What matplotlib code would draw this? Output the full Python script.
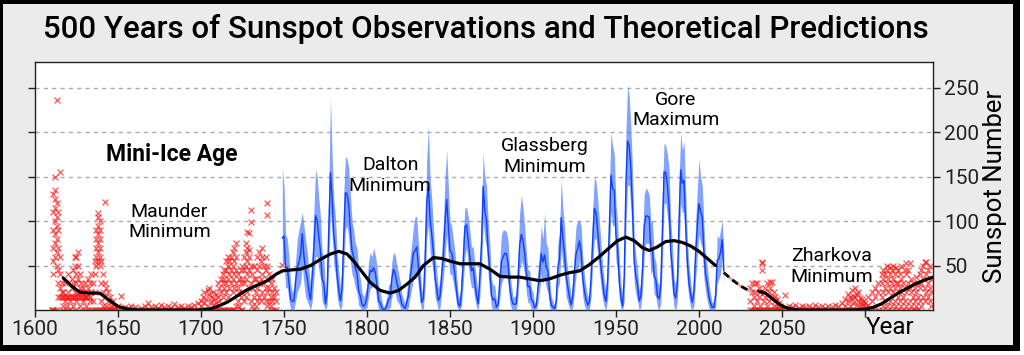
import matplotlib.pyplot as plt
from matplotlib.patches import Rectangle

# Observed sunspot numbers (blue), one entry per year 1749-2015:
# annual mean plus the highest / lowest monthly value seen in that year
obs_years = list(range(1749, 2016))
obs_mean = [
    80.9,
    83.4, 47.7, 47.8, 30.7, 12.2, 9.6, 10.2, 32.4, 47.6, 54.0,
    62.9, 85.9, 61.2, 45.1, 36.4, 20.9, 11.4, 37.8, 69.8, 106.1,
    100.8, 81.6, 66.5, 34.8, 30.6, 7.0, 19.8, 92.5, 154.4, 125.9,
    84.8, 68.1, 38.5, 22.8, 10.2, 24.1, 82.9, 132.0, 130.9, 118.1,
    89.9, 66.6, 60.0, 46.9, 41.0, 21.3, 16.0, 6.4, 4.1, 6.8,
    14.5, 34.0, 45.0, 43.1, 47.5, 42.2, 28.1, 10.1, 8.1, 2.5,
    0.0, 1.4, 5.0, 12.2, 13.9, 35.4, 45.8, 41.1, 30.1, 23.9,
    15.6, 6.6, 4.0, 1.8, 8.5, 16.6, 36.3, 49.6, 64.2, 67.0,
    70.9, 47.8, 27.5, 8.5, 13.2, 56.9, 121.5, 138.3, 103.2, 85.7,
    64.6, 36.7, 24.2, 10.7, 15.0, 40.1, 61.5, 98.5, 124.7, 96.3,
    66.6, 64.5, 54.1, 39.0, 20.6, 6.7, 4.3, 22.7, 54.8, 93.8,
    95.8, 77.2, 59.1, 44.0, 47.0, 30.5, 16.3, 7.3, 37.6, 74.0,
    139.0, 111.2, 101.6, 66.2, 44.7, 17.0, 11.3, 12.4, 3.4, 6.0,
    32.3, 54.3, 59.7, 63.7, 63.5, 52.2, 25.4, 13.1, 6.8, 6.3,
    7.1, 35.6, 73.0, 85.1, 78.0, 64.0, 41.8, 26.2, 26.7, 12.1,
    9.5, 2.7, 5.0, 24.4, 42.0, 63.5, 53.8, 62.0, 48.5, 43.9,
    18.6, 5.7, 3.6, 1.4, 9.6, 47.4, 57.1, 103.9, 80.6, 63.6,
    37.6, 26.1, 14.2, 5.8, 16.7, 44.3, 63.9, 69.0, 77.8, 64.9,
    35.7, 21.2, 11.1, 5.7, 8.7, 36.1, 79.7, 114.4, 109.6, 88.8,
    67.8, 47.5, 30.6, 16.3, 9.6, 33.2, 92.6, 151.6, 136.3, 134.7,
    83.9, 69.4, 31.5, 13.9, 4.4, 38.0, 141.7, 190.2, 184.8, 159.0,
    112.3, 53.9, 37.6, 27.9, 10.2, 15.1, 47.0, 93.8, 105.9, 105.5,
    104.5, 66.6, 68.9, 38.0, 34.5, 15.5, 12.6, 27.5, 92.5, 155.4,
    154.6, 140.4, 115.9, 66.6, 45.9, 17.9, 13.4, 29.4, 100.2, 157.6,
    142.6, 145.7, 94.3, 54.6, 29.9, 17.5, 8.6, 21.5, 64.3, 93.3,
    119.6, 111.0, 104.0, 63.7, 40.4, 29.8, 15.2, 7.5, 2.9, 3.1,
    16.5, 55.7, 57.6, 64.7, 79.3, 42.0,
]
obs_high = [
    160,
    140, 85, 80, 60, 30, 20, 25, 55, 80, 90,
    100, 110, 95, 80, 65, 45, 30, 65, 110, 158,
    150, 125, 105, 65, 60, 20, 45, 140, 238, 175,
    125, 105, 65, 45, 25, 50, 130, 173, 170, 160,
    130, 100, 90, 75, 70, 45, 35, 20, 15, 20,
    30, 55, 65, 60, 70, 62, 50, 25, 20, 10,
    3, 8, 15, 28, 30, 55, 65, 62, 50, 42,
    32, 18, 12, 8, 22, 35, 60, 75, 95, 105,
    105, 75, 50, 20, 30, 95, 170, 206, 150, 125,
    95, 60, 45, 25, 32, 65, 95, 150, 180, 140,
    100, 95, 80, 65, 40, 18, 12, 45, 85, 115,
    115, 105, 90, 70, 72, 50, 35, 18, 60, 110,
    176, 150, 140, 100, 75, 35, 28, 28, 10, 15,
    55, 85, 90, 90, 88, 78, 45, 28, 15, 15,
    18, 60, 110, 129, 115, 95, 65, 45, 45, 25,
    20, 8, 12, 45, 65, 95, 80, 109, 75, 70,
    35, 15, 10, 5, 22, 75, 85, 148, 115, 95,
    60, 45, 30, 15, 35, 70, 95, 100, 101, 95,
    60, 40, 25, 15, 20, 60, 115, 149, 145, 125,
    100, 75, 50, 32, 22, 55, 135, 200, 185, 175,
    120, 100, 55, 30, 12, 70, 200, 253, 240, 205,
    155, 85, 60, 48, 22, 30, 75, 130, 137, 135,
    130, 100, 100, 60, 55, 32, 28, 50, 135, 188,
    185, 175, 160, 100, 75, 35, 30, 50, 145, 200,
    180, 190, 135, 80, 50, 32, 18, 40, 100, 135,
    170, 150, 140, 95, 60, 50, 30, 18, 8, 10,
    30, 85, 80, 90, 101, 65,
]
obs_low = [
    50,
    55, 25, 25, 10, 0, 0, 0, 10, 20, 25,
    30, 50, 30, 15, 10, 5, 0, 10, 35, 60,
    60, 45, 35, 10, 5, 0, 5, 50, 110, 85,
    50, 40, 15, 5, 0, 5, 45, 90, 95, 80,
    55, 40, 35, 25, 20, 5, 3, 0, 0, 0,
    3, 15, 25, 25, 30, 25, 10, 0, 0, 0,
    0, 0, 0, 2, 2, 15, 25, 20, 10, 8,
    3, 0, 0, 0, 0, 3, 15, 25, 35, 40,
    45, 25, 8, 0, 2, 25, 80, 95, 65, 55,
    40, 15, 8, 0, 2, 20, 35, 60, 85, 60,
    40, 40, 30, 20, 5, 0, 0, 5, 30, 60,
    70, 50, 35, 25, 25, 12, 3, 0, 15, 45,
    100, 80, 70, 40, 20, 3, 0, 0, 0, 0,
    12, 30, 35, 40, 40, 30, 8, 2, 0, 0,
    0, 15, 45, 55, 50, 40, 20, 8, 8, 0,
    0, 0, 0, 8, 22, 40, 30, 35, 25, 20,
    3, 0, 0, 0, 0, 25, 30, 70, 50, 40,
    15, 8, 2, 0, 3, 20, 40, 45, 55, 40,
    15, 5, 0, 0, 0, 15, 50, 80, 80, 60,
    45, 25, 12, 3, 0, 12, 60, 110, 95, 95,
    55, 45, 12, 2, 0, 10, 90, 140, 140, 115,
    75, 30, 18, 10, 0, 3, 22, 60, 75, 75,
    75, 40, 45, 18, 15, 3, 0, 8, 55, 120,
    120, 105, 80, 40, 20, 3, 0, 10, 60, 120,
    110, 110, 60, 30, 12, 3, 0, 5, 35, 60,
    85, 75, 70, 35, 20, 10, 2, 0, 0, 0,
    3, 30, 35, 40, 60, 30,
]

# Early telescope records (red crosses): (year, values seen that year)
early_obs = [
    (1610, [0, 0]), (1611, [0, 40, 55, 70, 90, 110, 130]),
    (1612, [0, 60, 75, 85, 100, 115, 125, 135, 150]),
    (1613, [0, 50, 65, 80, 95, 105, 120, 236]), (1614, [15, 30, 45, 70, 90, 110]),
    (1615, [15, 25, 40, 60, 155]), (1616, [15, 20, 30]), (1617, [15, 0, 5, 20]),
    (1618, [15, 10, 30]), (1619, [15, 5, 0]), (1620, [15, 20, 40]),
    (1621, [15, 0, 10]), (1622, [15, 25, 35]), (1623, [15, 5, 30, 45]),
    (1624, [15, 0, 20, 50, 60]), (1625, [15, 10, 30, 40, 60]),
    (1626, [15, 20, 35, 50, 65]), (1627, [15, 5, 25, 40]), (1628, [15, 0, 20, 30]),
    (1629, [15, 10, 25]), (1630, [15, 0, 15, 30]), (1631, [15, 5, 20]),
    (1632, [15, 0, 25, 35]), (1633, [15, 10, 30]), (1634, [0, 20, 40]),
    (1635, [0, 10, 30]), (1636, [0, 20, 40, 55]), (1637, [0, 50, 60, 70, 80, 90]),
    (1638, [0, 55, 65, 75, 85, 95, 105, 109]), (1639, [0, 50, 60, 70, 80, 90, 100]),
    (1640, [0, 10, 30, 55]), (1641, [0, 5, 20, 40]), (1642, [121, 0, 15, 30]),
    (1643, [0, 5, 25]), (1644, [0, 10, 20]), (1645, [0, 2, 15]), (1646, [0, 5]),
    (1647, [0, 10]), (1648, [0, 3]),
]
maunder_obs = [
    (1650, [0, 5]), (1652, [0, 16]), (1654, [0, 3]), (1656, [0, 2]), (1658, [0, 5]),
    (1660, [0, 3]), (1662, [0]), (1664, [0, 2]), (1666, [0, 5]), (1668, [0, 8]),
    (1670, [0, 3]), (1672, [0, 4]), (1674, [0, 2]), (1676, [0, 6]), (1678, [0, 3]),
    (1680, [0, 5]), (1682, [0, 2]), (1684, [0, 7]), (1686, [0, 3]), (1688, [0, 4]),
    (1690, [0, 2]), (1692, [0, 5]), (1694, [0, 3]), (1696, [0, 6]), (1698, [0, 8]),
    (1700, [0, 10, 4]), (1701, [0, 15]), (1702, [0, 8, 20]), (1703, [0, 12]),
    (1704, [0, 5, 22]), (1705, [0, 18, 25]), (1706, [0, 10, 15]), (1707, [0, 6, 20]),
    (1708, [0, 12]), (1709, [0, 8, 18]),
]
late_obs = [
    (1710, [0, 15, 30]), (1711, [0, 10, 25]), (1712, [0, 20, 35]),
    (1713, [0, 15, 30, 40]), (1714, [0, 25, 35, 45]), (1715, [0, 20, 30, 45, 55]),
    (1716, [0, 15, 35, 50, 60]), (1717, [0, 25, 40, 55]), (1718, [0, 30, 45, 60]),
    (1719, [0, 20, 35, 50, 65]), (1720, [0, 25, 40, 55, 70]),
    (1721, [5, 30, 45, 60, 75]), (1722, [10, 25, 40]), (1723, [5, 20, 35]),
    (1724, [0, 15, 30, 45]), (1725, [0, 20, 35, 50]), (1726, [10, 30, 45, 60]),
    (1727, [15, 35, 50, 65, 75]), (1728, [20, 40, 55, 70, 88]),
    (1729, [25, 45, 60, 67, 87]), (1730, [10, 30, 50, 99, 113]), (1731, [5, 25, 40]),
    (1732, [0, 15, 35, 50]), (1733, [5, 20, 35]), (1734, [10, 25, 45, 60]),
    (1735, [15, 30, 50, 65]), (1736, [10, 35, 55]), (1737, [20, 40, 60, 70]),
    (1738, [15, 30, 50]), (1739, [10, 25, 45, 60]), (1740, [5, 20, 35, 49, 107, 120]),
    (1741, [10, 25, 40]), (1742, [5, 15, 30]), (1743, [0, 10, 20, 35]),
    (1744, [0, 15, 25]), (1745, [0, 10, 20]), (1749, [51]),
]
# Predicted values (red crosses after 2030)
pred_obs = [
    (2031, [0, 10, 25]), (2032, [0, 20, 30]), (2033, [0, 5, 15]), (2034, [0, 30, 20]),
    (2035, [0, 10, 30]), (2036, [0, 15, 25]), (2037, [0, 5, 20]),
    (2038, [0, 53, 54, 45]), (2039, [0, 10, 20]), (2040, [0, 15, 25]),
    (2041, [0, 5, 30]), (2042, [0, 10, 20]), (2043, [0, 25, 32]), (2044, [0, 15, 32]),
    (2045, [0, 5, 20]), (2046, [0, 10, 15]), (2047, [0, 3, 12]), (2048, [0, 8]),
    (2049, [0, 5]), (2050, [0, 2]), (2052, [0, 17]), (2054, [0, 5]), (2056, [0, 3]),
    (2058, [0, 6]), (2060, [0, 2]), (2062, [0, 4]), (2064, [0, 3]), (2066, [0, 5]),
    (2068, [0, 2]), (2070, [0, 6]), (2072, [0, 3]), (2074, [0, 4]), (2076, [0, 2]),
    (2078, [0, 5]), (2080, [0, 3]), (2082, [0, 6]), (2084, [0, 4]), (2086, [0, 8]),
    (2088, [0, 5, 12]), (2090, [0, 10, 18]), (2091, [0, 5, 15]), (2092, [0, 12, 22]),
    (2093, [0, 8, 16]), (2094, [0, 15, 25]), (2095, [0, 6, 18]), (2096, [0, 10, 20]),
    (2097, [0, 4, 14]), (2098, [0, 8, 12]), (2099, [0, 5, 10]), (2100, [0, 3, 8]),
    (2102, [0, 6, 15]), (2104, [0, 10, 20]), (2106, [0, 15, 25]), (2108, [0, 20, 30]),
    (2110, [0, 15, 30, 40]), (2111, [5, 20, 35, 45]), (2112, [10, 25, 40]),
    (2113, [5, 30, 45, 50]), (2114, [0, 20, 35]), (2115, [10, 25, 40, 48]),
    (2116, [5, 30, 45]), (2117, [0, 20, 35, 50]), (2118, [10, 25, 40]),
    (2119, [5, 30, 47]), (2120, [0, 15, 30, 45]), (2121, [10, 25, 40]),
    (2122, [5, 20, 35, 50]), (2123, [0, 15, 30]), (2124, [10, 25, 45]),
    (2125, [5, 20, 40, 53]), (2126, [0, 30, 45]), (2127, [10, 25, 53]),
    (2128, [5, 20, 35]), (2129, [0, 15, 30]), (2130, [0, 10, 25]), (2131, [5, 20, 37]),
    (2132, [0, 15, 30]), (2133, [10, 25, 40]), (2134, [5, 30, 45]),
    (2135, [15, 35, 50]), (2136, [10, 25, 54]), (2137, [20, 40, 54]),
    (2138, [15, 30, 45]), (2139, [10, 25, 50]), (2140, [5, 20, 35]),
]

# Smoothed trend (black line)
trend_years = [1617, 1622, 1627, 1633, 1639, 1644, 1650, 1656, 1662, 1700,
               1705, 1710, 1716, 1722, 1728, 1734, 1740, 1745, 1749, 1754,
               1760, 1766, 1772, 1778, 1783, 1788, 1792, 1797, 1802, 1808,
               1814, 1819, 1824, 1829, 1834, 1840, 1845, 1850, 1856, 1862,
               1868, 1874, 1880, 1886, 1892, 1898, 1904, 1910, 1916, 1922,
               1928, 1934, 1940, 1946, 1951, 1956, 1961, 1966, 1970, 1975,
               1980, 1985, 1990, 1995, 2000, 2005, 2010, 2015, 2020, 2025,
               2031, 2036, 2040, 2044, 2048, 2052, 2056, 2060, 2095, 2100,
               2105, 2110, 2115, 2120, 2125, 2130, 2135, 2141]
trend_values = [36, 27, 20, 19, 19, 12, 4, 1, 0, 0,
                1, 4, 9, 16, 23, 28, 33, 40, 44, 45,
                46, 50, 57, 63, 66, 63, 55, 43, 31, 22,
                19, 22, 29, 37, 50, 59, 58, 55, 52, 52,
                52, 46, 38, 37, 37, 35, 33, 35, 39, 42,
                44, 51, 60, 70, 78, 82, 78, 70, 67, 71,
                77, 78, 76, 72, 66, 58, 50, 42, 34, 27,
                21, 21, 19, 13, 7, 3, 1, 0, 0, 1,
                3, 7, 13, 19, 24, 29, 33, 37]
dash_from, dash_to = 2012, 2033

x_ticks = [1600, 1650, 1700, 1750, 1800, 1850, 1900, 1950, 2000, 2050, 2100]
x_labels = ['1600', '1650', '1700', '1750', '1800', '1850', '1900', '1950', '2000', '2050', '']
y_ticks = [50, 100, 150, 200, 250]

notes = [
    ("Mini-Ice Age", 1682.5, 175, 'bold', 16.5),
    ("Maunder\nMinimum", 1681, 99, 'normal', 14),
    ("Dalton\nMinimum", 1814, 151, 'normal', 14),
    ("Glassberg\nMinimum", 1907, 173, 'normal', 14),
    ("Gore\nMaximum", 1986, 225, 'normal', 14),
    ("Zharkova\nMinimum", 2080, 49, 'normal', 14),
]


def flatten(groups):
    xs, ys = [], []
    for yr, vals in groups:
        for v in vals:
            xs.append(yr)
            ys.append(v)
    return xs, ys


plt.rcParams['font.family'] = ['Roboto', 'DejaVu Sans']

W, H = 1024, 355
fig = plt.figure(figsize=(W / 100, H / 100), dpi=100, facecolor='white')

# black frame with light gray panel
fig.add_artist(Rectangle((0, 4 / H), 1020 / W, 351 / H, transform=fig.transFigure,
                         facecolor='black', edgecolor='none', zorder=-10))
fig.add_artist(Rectangle((3 / W, 10 / H), 1010 / W, 341 / H, transform=fig.transFigure,
                         facecolor='#ebebeb', edgecolor='none', zorder=-9))

ax = fig.add_axes([35 / W, 45 / H, 898 / W, 248 / H])
ax.set_facecolor('white')

# red crosses
for groups in (early_obs, maunder_obs, late_obs, pred_obs):
    xs, ys = flatten(groups)
    ax.scatter(xs, ys, marker='x', s=18, linewidths=0.9, color='#ff1010',
               alpha=0.7, zorder=2)

# blue observations
ax.fill_between(obs_years, obs_low, obs_high, color='#4f7cff', alpha=0.7,
                linewidth=0, zorder=3)
ax.plot(obs_years, obs_mean, color='#0d3fff', linewidth=1.0, zorder=4)

# black trend, dashed across the gap between data and prediction
solid_a = [(x, y) for x, y in zip(trend_years, trend_values) if x <= dash_from]
gap = [(x, y) for x, y in zip(trend_years, trend_values) if dash_from <= x <= dash_to]
solid_b = [(x, y) for x, y in zip(trend_years, trend_values) if x >= dash_to]
for seg in (solid_a, solid_b):
    ax.plot([p[0] for p in seg], [p[1] for p in seg], color='black', linewidth=2.3,
            solid_capstyle='round', zorder=5)
ax.plot([p[0] for p in gap], [p[1] for p in gap], color='#ff9aa8', linewidth=1.8, zorder=5)
ax.plot([p[0] for p in gap], [p[1] for p in gap], color='black', linewidth=2.0,
        dashes=(2.5, 1.5), zorder=6)

ax.set_xlim(1600, 2141)
ax.set_ylim(0, 279)
ax.set_xticks(x_ticks)
ax.set_xticklabels(x_labels)
ax.set_yticks(y_ticks)
ax.yaxis.grid(True, color='#aaaaaa', linestyle=(0, (3, 3)), linewidth=1)
ax.set_axisbelow(True)
ax.tick_params(axis='x', direction='out', length=5, width=1, labelsize=15,
               pad=2, colors='#222222')
ax.tick_params(axis='y', direction='out', length=5, width=1, left=True, right=True,
               labelleft=False, labelright=True, labelsize=15, pad=3, colors='#222222')
for sp in ax.spines.values():
    sp.set_color('#222222')
    sp.set_linewidth(1)

for text, x, y, weight, size in notes:
    ax.text(x, y, text, ha='center', va='center', fontsize=size, fontweight=weight,
            linespacing=1.2, color='black', zorder=7)

fig.text(486 / W, (H - 38) / H, "500 Years of Sunspot Observations and Theoretical Predictions",
         ha='center', va='baseline', fontsize=22.5, fontweight='medium')
fig.text(890 / W, (H - 327) / H, "Year", ha='center', va='center', fontsize=17.5)
fig.text(995 / W, (H - 186) / H, "Sunspot Number", ha='center', va='center',
         fontsize=18.5, rotation=90)

fig.savefig('out.png', dpi=100, facecolor=fig.get_facecolor())
